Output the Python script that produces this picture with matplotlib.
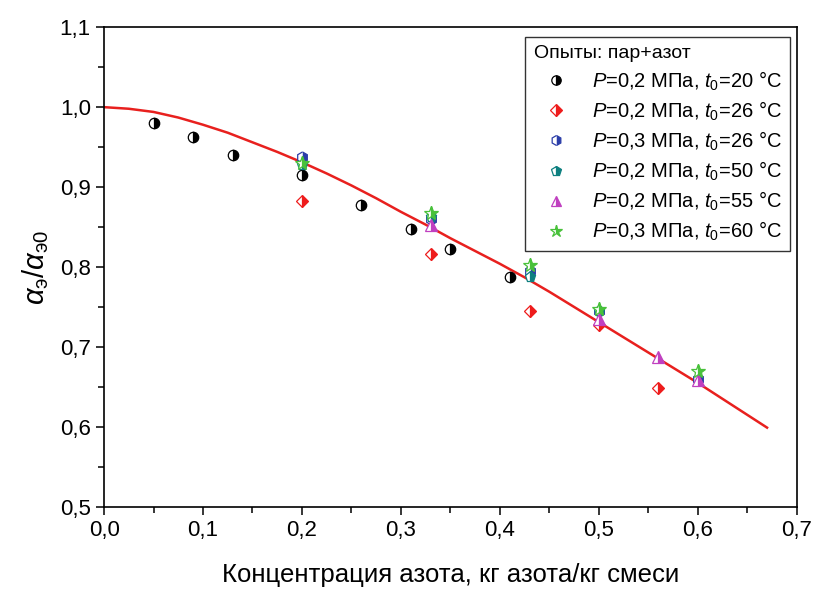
import numpy as np
import matplotlib
matplotlib.use("Agg")
import matplotlib.pyplot as plt
from matplotlib.ticker import FuncFormatter, MultipleLocator

plt.rcParams['font.family'] = ['Liberation Sans', 'DejaVu Sans']
plt.rcParams['mathtext.fontset'] = 'custom'
plt.rcParams['mathtext.rm'] = 'Liberation Sans'
plt.rcParams['mathtext.it'] = 'Liberation Sans:italic'

# опыты: пар+азот
x_s1 = [0.05, 0.09, 0.13, 0.20, 0.26, 0.31, 0.35, 0.41]
y_s1 = [0.980, 0.963, 0.940, 0.915, 0.878, 0.847, 0.822, 0.787]
x_s2 = [0.20, 0.33, 0.43, 0.50, 0.56]
y_s2 = [0.883, 0.816, 0.745, 0.728, 0.648]
x_s3 = [0.20, 0.33, 0.43, 0.50, 0.60]
y_s3 = [0.938, 0.860, 0.795, 0.745, 0.660]
x_s4 = [0.20, 0.33, 0.43, 0.50]
y_s4 = [0.928, 0.862, 0.788, 0.745]
x_s5 = [0.33, 0.50, 0.56, 0.60]
y_s5 = [0.852, 0.735, 0.688, 0.658]
x_s6 = [0.20, 0.33, 0.43, 0.50, 0.60]
y_s6 = [0.930, 0.868, 0.803, 0.748, 0.670]

labels = [r'$P$=0,2 МПа, $t_0$=20 °C',
          r'$P$=0,2 МПа, $t_0$=26 °C',
          r'$P$=0,3 МПа, $t_0$=26 °C',
          r'$P$=0,2 МПа, $t_0$=50 °C',
          r'$P$=0,2 МПа, $t_0$=55 °C',
          r'$P$=0,3 МПа, $t_0$=60 °C']

# расчетная кривая
x_fit = [0.0, 0.025, 0.05, 0.075, 0.10, 0.125, 0.15, 0.175, 0.20, 0.225,
         0.25, 0.275, 0.30, 0.325, 0.35, 0.375, 0.40, 0.425, 0.45, 0.475,
         0.50, 0.525, 0.55, 0.575, 0.60, 0.625, 0.65, 0.67]
y_fit = [1.000, 0.998, 0.994, 0.987, 0.978, 0.968, 0.956, 0.944, 0.931, 0.917,
         0.902, 0.886, 0.869, 0.853, 0.836, 0.820, 0.804, 0.787, 0.769, 0.750,
         0.731, 0.712, 0.693, 0.674, 0.655, 0.635, 0.615, 0.599]

fig = plt.figure(figsize=(8.13, 5.92), dpi=100)
ax = fig.add_axes([0.128, 0.144, 0.852, 0.810])

ax.plot(x_fit, y_fit, color='#e8201e', lw=1.8, zorder=1)

series = [(x_s1, y_s1, 'o', 'black', 7.5),
          (x_s2, y_s2, 'D', '#ee1c1c', 6.5),
          (x_s3, y_s3, 'h', '#2b3da8', 8),
          (x_s4, y_s4, 'p', '#0e8080', 8),
          (x_s5, y_s5, '^', '#c040c0', 8),
          (x_s6, y_s6, '*', '#49c13b', 10)]
for (xs, ys, m, c, ms), lab in zip(series, labels):
    ax.plot(xs, ys, ls='none', marker=m, ms=ms, color=c, mec=c, mfc=c,
            fillstyle='right', markerfacecoloralt='white', mew=0.9,
            label=lab, zorder=3)

ax.set_xlim(0, 0.7)
ax.set_ylim(0.5, 1.1)
ax.xaxis.set_major_locator(MultipleLocator(0.1))
ax.xaxis.set_minor_locator(MultipleLocator(0.05))
ax.yaxis.set_major_locator(MultipleLocator(0.1))
ax.yaxis.set_minor_locator(MultipleLocator(0.05))
fmt = FuncFormatter(lambda v, p: f'{v:.1f}'.replace('.', ','))
ax.xaxis.set_major_formatter(fmt)
ax.yaxis.set_major_formatter(fmt)
ax.tick_params(which='both', direction='out', top=False, right=False, labelsize=16, width=1.1)
ax.tick_params(which='major', length=6)
ax.tick_params(which='minor', length=4)
for s in ax.spines.values():
    s.set_linewidth(1.2)

ax.set_xlabel('Концентрация азота, кг азота/кг смеси', fontsize=18.5, labelpad=16)
ax.set_ylabel(r'$\alpha_{\rm э}/\alpha_{\rm э0}$', fontsize=21, labelpad=6)

leg = ax.legend(title='Опыты: пар+азот', loc='upper right', fontsize=14.5,
                title_fontsize=14, frameon=True, fancybox=False,
                edgecolor='black', borderpad=0.4, handletextpad=0.7,
                handlelength=2.2, labelspacing=0.34, borderaxespad=0,
                bbox_to_anchor=(0.990, 0.979), markerscale=0.9)
leg._legend_box.align = 'left'
leg.get_frame().set_linewidth(1.0)

fig.savefig('out.png', dpi=100)
